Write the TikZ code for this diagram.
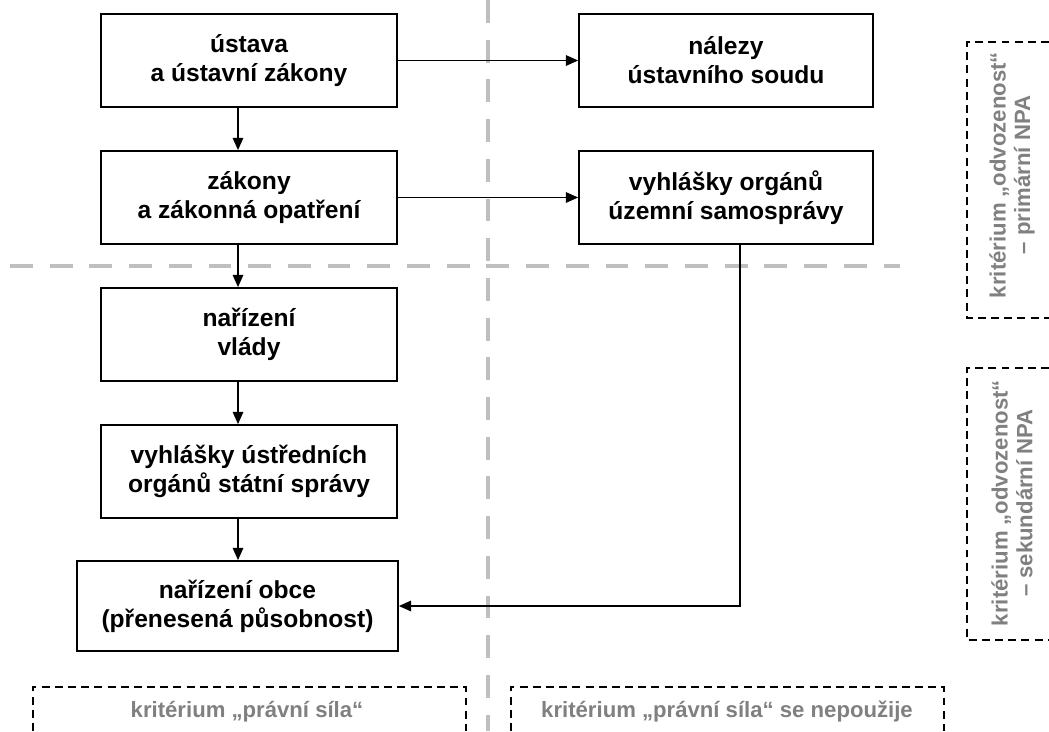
\documentclass[tikz,border=0pt]{standalone}
\usepackage{fontspec}
\setmainfont{Liberation Sans}
\usetikzlibrary{arrows.meta}

\tikzset{
  box/.style={draw, fill=white, line width=1pt, align=center, inner sep=0pt,
    font=\bfseries\fontsize{14}{16.5}\selectfont,
    minimum width=5.92cm, minimum height=1.86cm},
  link/.style={line width=0.9pt, -{Triangle[length=7pt,width=6pt]}},
  divider/.style={draw=black!25, line width=2.8pt, dash pattern=on 13pt off 9.6pt},
  crit/.style={line width=0.7pt, dash pattern=on 4.5pt off 3pt},
  critlabel/.style={text=black!50, align=center,
    font=\bfseries\fontsize{12.6}{14}\selectfont}
}

\begin{document}
\begin{tikzpicture}[x=0.02cm,y=-0.02cm]
\useasboundingbox (0,0) rectangle (1049,731);

% Dividers
\draw[divider] (488,0) -- (488,731);
\draw[divider] (10,266) -- (900,266);

% Nodes
\node[box] (ustava) at (249,60.5) {ústava\\a ústavní zákony};
\node[box, minimum width=5.88cm] (nalezy) at (726,60.5) {nálezy\\ústavního soudu};
\node[box] (zakony) at (249,197.5) {zákony\\a zákonná opatření};
\node[box, minimum width=5.88cm] (vyhlusc) at (726,197.5) {vyhlášky orgánů\\územní samosprávy};
\node[box] (narvl) at (249,334.5) {nařízení\\vlády};
\node[box] (vyhlust) at (249,471.5) {vyhlášky ústředních\\orgánů státní správy};
\node[box, minimum width=6.42cm, minimum height=1.8cm] (narob) at (237.5,606) {nařízení obce\\(přenesená působnost)};

\coordinate (spine) at (238,0);
\coordinate (drop) at (740,0);

% Edges
\draw[link] (ustava.east) -- (nalezy.west);
\draw[link] (zakony.east) -- (vyhlusc.west);
\draw[link] (ustava.south -| spine) -- (zakony.north -| spine);
\draw[link] (zakony.south -| spine) -- (narvl.north -| spine);
\draw[link] (narvl.south -| spine) -- (vyhlust.north -| spine);
\draw[link] (vyhlust.south -| spine) -- (narob.north -| spine);
\draw[link] (vyhlusc.south -| drop) -- (drop |- narob.east) -- (narob.east);

% Criteria
\draw[crit] (1049,42) -- (967,42) -- (967,318) -- (1049,318);
\draw[crit] (1049,368) -- (967,368) -- (967,640) -- (1049,640);
\draw[crit] (33,731) -- (33,687) -- (466,687) -- (466,731);
\draw[crit] (511,731) -- (511,687) -- (944,687) -- (944,731);

\node[critlabel, rotate=90] (odvprim) at (1012,175) {kritérium „odvozenost“\\– primární NPA};
\node[critlabel, rotate=90] (odvsek) at (1012,503) {kritérium „odvozenost“\\– sekundární NPA};
\node[critlabel] (silaano) at (247,712) {kritérium „právní síla“};
\node[critlabel] (silane) at (727,712) {kritérium „právní síla“ se nepoužije};

\end{tikzpicture}
\end{document}
